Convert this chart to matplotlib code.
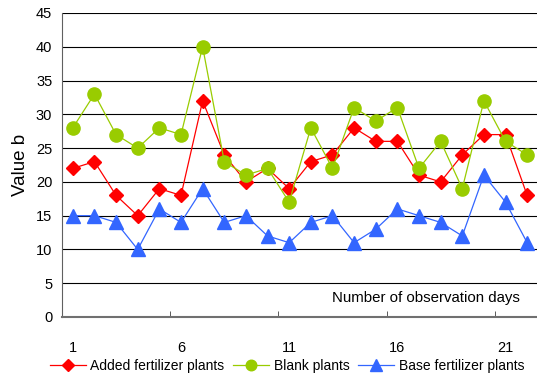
import numpy as np
import matplotlib.pyplot as plt

plt.rcParams['font.family'] = ['Liberation Sans', 'DejaVu Sans']

# data
days = np.arange(1, 23)
added = [22, 23, 18, 15, 19, 18, 32, 24, 20, 22, 19, 23, 24, 28, 26, 26, 21, 20, 24, 27, 27, 18]
blank = [28, 33, 27, 25, 28, 27, 40, 23, 21, 22, 17, 28, 22, 31, 29, 31, 22, 26, 19, 32, 26, 24]
base = [15, 15, 14, 10, 16, 14, 19, 14, 15, 12, 11, 14, 15, 11, 13, 16, 15, 14, 12, 21, 17, 11]
day_labels = [1, 6, 11, 16, 21]

fig = plt.figure(figsize=(5.37, 3.76), dpi=100)
ax = fig.add_axes([62 / 537, 1 - 317 / 376, 476 / 537, 304 / 376])

ax.plot(days, added, color='#ff0000', lw=0.9, marker='D', ms=7.2,
        label='Added fertilizer plants', zorder=3)
ax.plot(days, blank, color='#99cc00', lw=0.9, marker='o', ms=9.5,
        label='Blank plants', zorder=4)
ax.plot(days, base, color='#3366ff', lw=0.9, marker='^', ms=10,
        label='Base fertilizer plants', zorder=5)

ax.set_xlim(0.5, 22.5)
ax.set_ylim(0, 45)
ax.set_yticks(np.arange(0, 46, 5))
ax.set_xticks(day_labels)
ax.set_xticks(np.arange(0.5, 22, 5), minor=True)
ax.tick_params(axis='x', which='major', length=0, pad=17, labelsize=10.5)
ax.tick_params(axis='x', which='minor', direction='in', length=4, color='#404040')
ax.tick_params(axis='y', length=0, pad=7, labelsize=10.5)

ax.yaxis.grid(True, color='black', lw=0.8)
ax.set_axisbelow(True)
for s in ['top', 'right']:
    ax.spines[s].set_visible(False)
ax.spines['left'].set_color('#606060')
ax.spines['bottom'].set_color('#707070')
ax.spines['bottom'].set_linewidth(1.5)

ax.set_ylabel('Value b', fontsize=13.5, labelpad=5)
ax.text(0.765, 0.062, 'Number of observation days', transform=ax.transAxes,
        ha='center', va='center', fontsize=10.8)

fig.legend(loc='center', bbox_to_anchor=(287 / 537, 1 - 366 / 376), ncol=3,
           frameon=False, fontsize=10, handlelength=2.6, handletextpad=0.35,
           columnspacing=0.6, borderaxespad=0, markerscale=0.8)

fig.savefig('out.png', dpi=100)
